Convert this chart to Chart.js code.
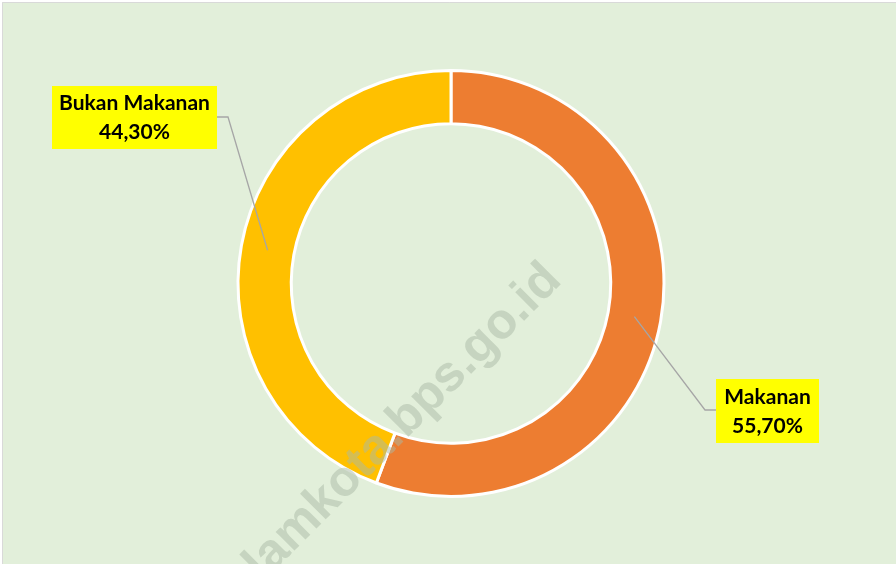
<!DOCTYPE html>
<html>
<head>
<meta charset="utf-8">
<script src="https://cdn.jsdelivr.net/npm/chart.js@4.4.0/dist/chart.umd.min.js"></script>
<style>
  html, body { margin: 0; padding: 0; background: #fff; }
  #wrap { width: 896px; height: 564px; position: relative; }
</style>
</head>
<body>
<div id="wrap"><canvas id="chart" width="896" height="564"></canvas></div>
<script>
const labels = ['Makanan', 'Bukan Makanan'];
const values = [55.70, 44.30];
const colors = ['#ED7D31', '#FFC000'];

// where each callout box sits, and the elbow of its leader line
const callouts = [
	{ box: [716, 379, 103, 64], elbow: [705, 410], end: [716, 410] },
	{ box: [52, 86, 165, 63], elbow: [228, 117], end: [217, 117] },
];

function pct(v) {
	return v.toFixed(2).replace('.', ',') + '%';
}

const backdrop = {
	id: 'backdrop',
	beforeDraw(chart) {
		const c = chart.ctx;
		c.save();
		c.fillStyle = '#E2EFDA';
		c.fillRect(2, 2, chart.width - 2, chart.height - 2);
		c.strokeStyle = '#D9D9D9';
		c.lineWidth = 1;
		c.beginPath();
		c.moveTo(2.5, chart.height);
		c.lineTo(2.5, 2.5);
		c.lineTo(chart.width, 2.5);
		c.stroke();
		c.restore();
	},
};

const callout = {
	id: 'callout',
	afterDatasetsDraw(chart) {
		const c = chart.ctx;
		const arcs = chart.getDatasetMeta(0).data;
		c.save();
		arcs.forEach((arc, i) => {
			const p = arc.tooltipPosition();
			const o = callouts[i];
			c.strokeStyle = '#A6A6A6';
			c.lineWidth = 1.3;
			c.beginPath();
			c.moveTo(p.x, p.y);
			c.lineTo(o.elbow[0], o.elbow[1]);
			c.lineTo(o.end[0], o.end[1]);
			c.stroke();

			const [bx, by, bw, bh] = o.box;
			c.fillStyle = '#FFFF00';
			c.fillRect(bx, by, bw, bh);
			c.fillStyle = '#000';
			c.font = 'bold 21px Lato';
			c.textAlign = 'center';
			c.textBaseline = 'middle';
			c.fillText(labels[i], bx + bw / 2, by + bh / 2 - 14);
			c.fillText(pct(values[i]), bx + bw / 2, by + bh / 2 + 15);
		});
		c.restore();
	},
	afterDraw(chart) {
		// watermark
		const c = chart.ctx;
		c.save();
		c.translate(563, 282);
		c.rotate(-45 * Math.PI / 180);
		c.font = 'bold 50px "Liberation Sans"';
		c.textAlign = 'right';
		c.textBaseline = 'alphabetic';
		c.fillStyle = 'rgba(170, 185, 165, 0.5)';
		c.fillText('alamkota.bps.go.id', 0, 0);
		c.restore();
	},
};

new Chart(document.getElementById('chart'), {
	type: 'doughnut',
	data: {
		labels: labels,
		datasets: [{
			data: values,
			backgroundColor: colors,
			borderColor: '#FFFFFF',
			borderWidth: 3,
		}],
	},
	options: {
		responsive: false,
		animation: false,
		cutout: '75%',
		layout: { padding: { top: 69, bottom: 66, left: 103, right: 97 } },
		plugins: {
			legend: { display: false },
			tooltip: { enabled: false },
		},
	},
	plugins: [backdrop, callout],
});
</script>
</body>
</html>
